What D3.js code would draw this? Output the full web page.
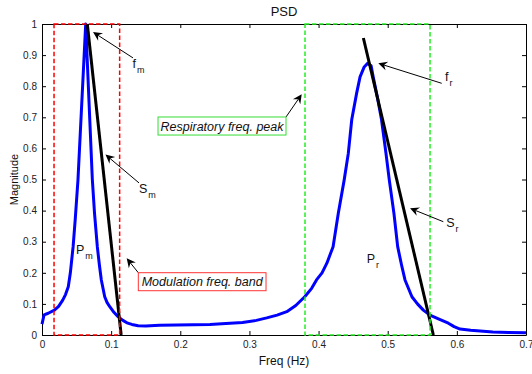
<!DOCTYPE html>
<html>
<head>
<meta charset="utf-8">
<script src="https://cdn.jsdelivr.net/npm/d3@7"></script>
<style>
  body { margin: 0; background: #fff; }
  text { font-family: 'Liberation Sans', Arial, sans-serif; }
</style>
</head>
<body>
<script>
// PSD curve
const freq = [0, 0.003, 0.009, 0.018, 0.024, 0.030, 0.034, 0.038, 0.041, 0.045, 0.048, 0.052,
  0.0632, 0.0728, 0.076, 0.080, 0.083, 0.0858, 0.0907, 0.094, 0.098, 0.104, 0.110, 0.117,
  0.124, 0.130, 0.139, 0.150, 0.17, 0.243, 0.26, 0.29, 0.31, 0.325, 0.34, 0.354, 0.367,
  0.380, 0.39, 0.397, 0.405, 0.412, 0.421, 0.4286, 0.437, 0.443, 0.448, 0.455, 0.460, 0.466,
  0.471, 0.476, 0.479, 0.485, 0.491, 0.4975, 0.5023, 0.509, 0.5144, 0.52, 0.525, 0.535,
  0.543, 0.5515, 0.561, 0.575, 0.5877, 0.596, 0.6046, 0.62, 0.652, 0.675, 0.70]
const mag = [0.035, 0.065, 0.070, 0.080, 0.092, 0.112, 0.13, 0.155, 0.2, 0.284, 0.37, 0.498,
  1.0, 0.5, 0.39, 0.284, 0.225, 0.177, 0.123, 0.105, 0.091, 0.073, 0.059, 0.047,
  0.038, 0.034, 0.030, 0.029, 0.031, 0.034, 0.036, 0.040, 0.047, 0.055, 0.064, 0.075, 0.095,
  0.123, 0.15, 0.177, 0.2, 0.231, 0.284, 0.392, 0.498, 0.584, 0.693, 0.777, 0.83, 0.862,
  0.874, 0.866, 0.83, 0.765, 0.693, 0.584, 0.498, 0.391, 0.284, 0.225, 0.177, 0.123,
  0.1, 0.080, 0.064, 0.05, 0.038, 0.027, 0.019, 0.015, 0.010, 0.008, 0.007]

// slope lines S_m and S_r: [[f0, m0], [f1, m1]]
const slopeM = [[0.0655, 1.0], [0.1145, 0]]
const slopeR = [[0.4648, 0.955], [0.566, 0]]

// bands: [fStart, fEnd]
const modBand = [0.0174, 0.1123]
const respBand = [0.3804, 0.5612]

const xTicks = [0, 0.1, 0.2, 0.3, 0.4, 0.5, 0.6, 0.7]
const yTicks = [0, 0.1, 0.2, 0.3, 0.4, 0.5, 0.6, 0.7, 0.8, 0.9, 1]

// arrows: head and tail in data units, label main text + subscript
const arrows = [
  { head: [0.0738, 0.974], tail: [0.1316, 0.891], label: 'f', sub: 'm', at: [0.1310, 0.859] },
  { head: [0.0918, 0.580], tail: [0.1403, 0.489], label: 'S', sub: 'm', at: [0.1403, 0.458] },
  { head: [0.4864, 0.8736], tail: [0.5781, 0.8093], label: 'f', sub: 'r', at: [0.5830, 0.8167] },
  { head: [0.5323, 0.4074], tail: [0.5804, 0.3643], label: 'S', sub: 'r', at: [0.5846, 0.3466] }
]
const plain = [
  { label: 'P', sub: 'm', at: [0.0492, 0.260] },
  { label: 'P', sub: 'r', at: [0.4695, 0.231] }
]
const boxes = [
  { text: 'Modulation freq. band', color: '#ff3333', x0: 0.1393, x1: 0.3240, y0: 0.2003, y1: 0.1424,
    head: [0.1225, 0.2466], tail: [0.1393, 0.2003] },
  { text: 'Respiratory freq. peak', color: '#33dd33', x0: 0.1678, x1: 0.3529, y0: 0.701, y1: 0.643,
    head: [0.3756, 0.774], tail: [0.3529, 0.701] }
]

const W = 532, H = 374
const margin = { top: 24, right: 6, bottom: 39, left: 42 }
const width = W - margin.left - margin.right
const height = H - margin.top - margin.bottom

const svg = d3.select('body').append('svg')
  .attr('width', W)
  .attr('height', H)
  .append('g')
    .attr('transform', `translate(${margin.left} ${margin.top})`)

const xScale = d3.scaleLinear().domain([0, 0.7]).range([0, width])
const yScale = d3.scaleLinear().domain([0, 1]).range([height, 0])

// axes (box with inward ticks)
const styleAxis = g => {
  g.selectAll('path.domain').attr('stroke', '#000')
  g.selectAll('.tick line').attr('stroke', '#000')
  g.selectAll('text').attr('font-size', 10).attr('fill', '#222')
    .style('font-family', "'Liberation Sans', Arial, sans-serif")
}
svg.append('g')
  .attr('transform', `translate(0, ${height})`)
  .call(d3.axisBottom(xScale).tickValues(xTicks).tickFormat(d => d)
    .tickSizeInner(-4).tickSizeOuter(0).tickPadding(6))
  .call(styleAxis)
svg.append('g')
  .call(d3.axisTop(xScale).tickValues(xTicks).tickFormat('')
    .tickSizeInner(-4).tickSizeOuter(0))
  .call(styleAxis)
svg.append('g')
  .call(d3.axisLeft(yScale).tickValues(yTicks).tickFormat(d => d)
    .tickSizeInner(-4).tickSizeOuter(0).tickPadding(5))
  .call(styleAxis)
svg.append('g')
  .attr('transform', `translate(${width}, 0)`)
  .call(d3.axisRight(yScale).tickValues(yTicks).tickFormat('')
    .tickSizeInner(-4).tickSizeOuter(0))
  .call(styleAxis)

// PSD curve
const line = d3.line()
  .x((d, i) => xScale(freq[i]))
  .y(d => yScale(d))
svg.append('path')
  .datum(mag)
  .attr('d', line)
  .style('fill', 'none')
  .style('stroke', '#0000ff')
  .style('stroke-width', 3)
  .style('stroke-linejoin', 'round')

// slope lines
const seg = d3.line().x(d => xScale(d[0])).y(d => yScale(d[1]))
;[slopeM, slopeR].forEach(s => {
  svg.append('path')
    .attr('d', seg(s))
    .style('stroke', '#000')
    .style('stroke-width', 3)
})

// dashed band rectangles
const bandRect = (band, color) => svg.append('rect')
  .attr('x', xScale(band[0]))
  .attr('y', yScale(1))
  .attr('width', xScale(band[1]) - xScale(band[0]))
  .attr('height', yScale(0) - yScale(1))
  .style('fill', 'none')
  .style('stroke', color)
  .style('stroke-width', 1.5)
  .style('stroke-dasharray', '4.5,2.5')
bandRect(modBand, '#ff0000')
bandRect(respBand, '#22ee22')

// arrows
const drawArrow = (head, tail) => {
  const hx = xScale(head[0]), hy = yScale(head[1])
  const tx = xScale(tail[0]), ty = yScale(tail[1])
  const ang = Math.atan2(hy - ty, hx - tx)
  const L = 9, hw = 4.5, notch = 6
  const ux = Math.cos(ang), uy = Math.sin(ang)
  const px = -uy, py = ux
  svg.append('line')
    .attr('x1', tx).attr('y1', ty)
    .attr('x2', hx - ux * notch).attr('y2', hy - uy * notch)
    .style('stroke', '#000').style('stroke-width', 1)
  const pts = [
    [hx, hy],
    [hx - ux * L + px * hw, hy - uy * L + py * hw],
    [hx - ux * notch, hy - uy * notch],
    [hx - ux * L - px * hw, hy - uy * L - py * hw]
  ]
  svg.append('path')
    .attr('d', 'M' + pts.map(p => p.join(',')).join('L') + 'Z')
    .style('fill', '#000')
}

const subLabel = d => {
  const t = svg.append('text')
    .attr('x', xScale(d.at[0]))
    .attr('y', yScale(d.at[1]))
    .attr('font-size', 12.5)
    .attr('fill', '#111')
  t.append('tspan').text(d.label)
  t.append('tspan').attr('font-size', 9).attr('dy', 5).attr('dx', 1).text(d.sub)
}

arrows.forEach(d => {
  drawArrow(d.head, d.tail)
  subLabel(d)
})
plain.forEach(subLabel)

// boxed text annotations
boxes.forEach(b => {
  drawArrow(b.head, b.tail)
  svg.append('rect')
    .attr('x', xScale(b.x0))
    .attr('y', yScale(b.y0))
    .attr('width', xScale(b.x1) - xScale(b.x0))
    .attr('height', yScale(b.y1) - yScale(b.y0))
    .style('fill', '#fff')
    .style('stroke', b.color)
    .style('stroke-width', 1)
  svg.append('text')
    .attr('x', (xScale(b.x0) + xScale(b.x1)) / 2)
    .attr('y', yScale(b.y1) - 4.5)
    .attr('text-anchor', 'middle')
    .attr('font-size', 12.5)
    .attr('font-style', 'italic')
    .attr('fill', '#111')
    .text(b.text)
})

// title and axis labels
svg.append('text')
  .attr('x', width / 2)
  .attr('y', -8)
  .attr('text-anchor', 'middle')
  .attr('font-size', 13)
  .attr('fill', '#111')
  .text('PSD')
svg.append('text')
  .attr('x', width / 2)
  .attr('y', height + 30)
  .attr('text-anchor', 'middle')
  .attr('font-size', 12)
  .attr('fill', '#111')
  .text('Freq (Hz)')
svg.append('text')
  .attr('transform', `translate(${18 - margin.left}, ${height / 2}) rotate(-90)`)
  .attr('text-anchor', 'middle')
  .attr('font-size', 11)
  .attr('fill', '#111')
  .text('Magnitude')
</script>
</body>
</html>
